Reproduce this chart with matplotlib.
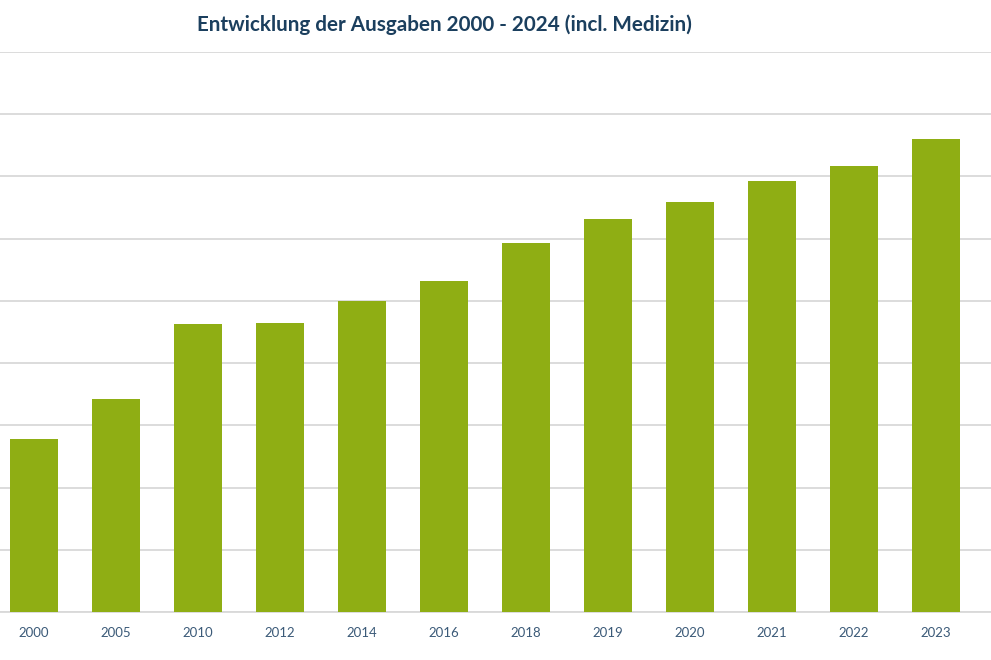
import matplotlib
matplotlib.use("Agg")
import matplotlib.pyplot as plt

# data (one grid step = 100)
jahre = ["2000", "2005", "2010", "2012", "2014", "2016", "2018", "2019", "2020", "2021", "2022", "2023"]
ausgaben = [278, 342, 463, 465, 500, 532, 593, 632, 659, 693, 717, 760]

plt.rcParams['font.family'] = ['Lato', 'DejaVu Sans']

fig = plt.figure(figsize=(9.91, 6.6), dpi=100)
ax = fig.add_axes([0, 48 / 660, 1, 560 / 660])

x = range(len(jahre))
ax.bar(x, ausgaben, width=0.585, color='#8fae14', zorder=3)

ax.set_xlim(-34 / 82, 11 + 55 / 82)
ax.set_ylim(0, 900)
ax.set_yticks(range(0, 901, 100))
ax.yaxis.grid(True, color='#d9d9d9', linewidth=1.3, zorder=0)
ax.set_yticklabels([])
ax.tick_params(axis='y', length=0)

ax.set_xticks(list(x))
ax.set_xticklabels(jahre, fontsize=9.5, color='#3b5a78')
ax.tick_params(axis='x', length=0, pad=11)

for s in ['top', 'right', 'left']:
    ax.spines[s].set_visible(False)
ax.spines['bottom'].set_color('#d9d9d9')
ax.spines['bottom'].set_linewidth(1.3)

fig.text(444 / 991, 1 - 25 / 660, "Entwicklung der Ausgaben 2000 - 2024 (incl. Medizin)",
         ha='center', va='center', fontsize=14.9, fontweight='bold', color='#1b3f5e')

fig.savefig("out.png", dpi=100)
